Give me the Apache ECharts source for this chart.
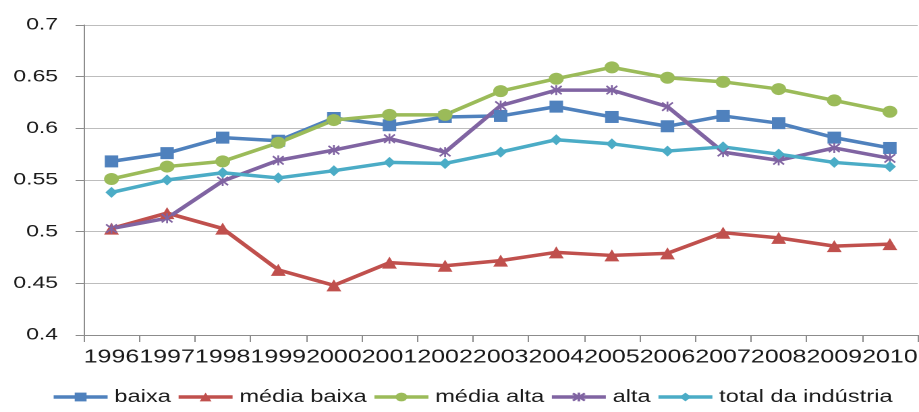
<!DOCTYPE html>
<html>
<head>
<meta charset="utf-8">
<script src="https://cdn.jsdelivr.net/npm/echarts@6/dist/echarts.min.js"></script>
<style>
html,body{margin:0;padding:0;background:#fff;overflow:hidden;}
#c{width:681px;height:412px;transform:scaleX(1.3495);transform-origin:0 0;}
</style>
</head>
<body>
<div id="c"></div>
<script>
var years = ['1996','1997','1998','1999','2000','2001','2002','2003','2004','2005','2006','2007','2008','2009','2010'];
var baixa = [0.568,0.576,0.591,0.588,0.610,0.603,0.611,0.612,0.621,0.611,0.602,0.612,0.605,0.591,0.581];
var mediaBaixa = [0.503,0.518,0.503,0.463,0.448,0.470,0.467,0.472,0.480,0.477,0.479,0.499,0.494,0.486,0.488];
var mediaAlta = [0.551,0.563,0.568,0.586,0.608,0.613,0.613,0.636,0.648,0.659,0.649,0.645,0.638,0.627,0.616];
var alta = [0.503,0.513,0.549,0.569,0.579,0.590,0.577,0.622,0.637,0.637,0.621,0.577,0.569,0.581,0.571];
var total = [0.538,0.550,0.557,0.552,0.559,0.567,0.566,0.577,0.589,0.585,0.578,0.582,0.575,0.567,0.563];
var yTicks = {min: 0.4, max: 0.7, interval: 0.05};

var chart = echarts.init(document.getElementById('c'), null, {devicePixelRatio: 2});
var font = 'Liberation Sans, Arial, sans-serif';
function mk(name, data, color, symbol, size, extra) {
  return {
    name: name, type: 'line', data: data,
    symbol: symbol, symbolSize: size, showSymbol: true,
    lineStyle: {color: color, width: 3.5},
    itemStyle: Object.assign({color: color}, extra || {}),
    emphasis: {disabled: true}
  };
}
var asterisk = 'path://M0,0L10,10M10,0L0,10M5,-1L5,11';
chart.setOption({
  animation: false,
  grid: {left: 62, right: 1, top: 25, bottom: 77, containLabel: false, outerBoundsMode: 'none'},
  xAxis: {
    type: 'category', data: years, boundaryGap: true,
    axisLine: {lineStyle: {color: '#8c8c8c', width: 1}},
    axisTick: {show: true, length: 7, lineStyle: {color: '#8c8c8c'}},
    axisLabel: {interval: 0, color: '#1a1a1a', fontFamily: font, fontSize: 18.5, margin: 13}
  },
  yAxis: {
    type: 'value', min: yTicks.min, max: yTicks.max, interval: yTicks.interval,
    axisLine: {show: true, lineStyle: {color: '#8c8c8c', width: 1}},
    axisTick: {show: true, length: 6, lineStyle: {color: '#8c8c8c'}},
    splitLine: {show: true, lineStyle: {color: '#bdbdbd', width: 1}},
    axisLabel: {color: '#1a1a1a', fontFamily: font, fontSize: 17, margin: 19,
      formatter: function(v){ return String(Math.round(v*100)/100); }}
  },
  legend: {
    bottom: 1, left: 33, itemGap: 4, itemWidth: 40, itemHeight: 11,
    lineStyle: {width: 3.5},
    textStyle: {color: '#1a1a1a', fontFamily: font, fontSize: 17.5},
    data: ['baixa','média baixa','média alta','alta','total da indústria']
  },
  series: [
    mk('baixa', baixa, '#4F81BD', 'rect', [10, 12]),
    mk('média baixa', mediaBaixa, '#C0504D', 'triangle', [11, 12]),
    mk('média alta', mediaAlta, '#9BBB59', 'circle', [11, 12]),
    mk('alta', alta, '#8064A2', asterisk, [8, 10], {borderColor: '#8064A2', borderWidth: 1.5}),
    mk('total da indústria', total, '#4BACC6', 'diamond', [9, 11])
  ]
});
</script>
</body>
</html>
